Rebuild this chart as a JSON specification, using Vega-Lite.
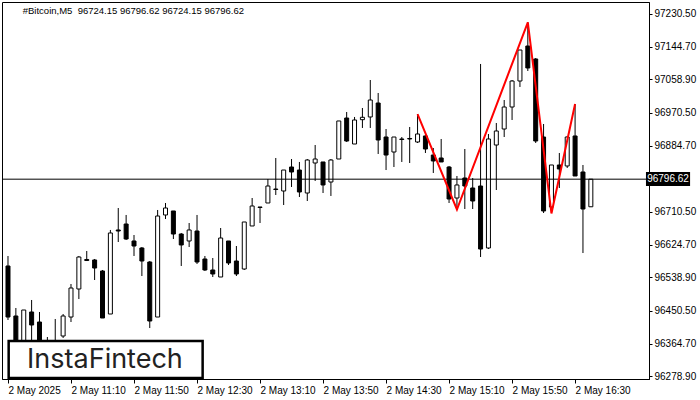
{
  "$schema": "https://vega.github.io/schema/vega-lite/v6.json",
  "width": 647,
  "height": 377,
  "autosize": {"type": "none"},
  "padding": {"left": 2, "top": 2, "right": 51, "bottom": 21},
  "background": "white",
  "config": {
    "view": {"stroke": "black", "strokeWidth": 1},
    "font": "Liberation Sans",
    "axis": {"grid": false, "labelColor": "black", "tickColor": "black", "domainColor": "black", "labelFont": "Liberation Sans", "labelFontSize": 10, "labelOverlap": false, "labelFlush": false}
  },
  "datasets": {
    "candles": [
      {"t": "2025-05-02T10:30:00", "o": 96568.6, "h": 96594.9, "l": 96426.8, "c": 96434.6},
      {"t": "2025-05-02T10:35:00", "o": 96437.3, "h": 96458.3, "l": 96334.8, "c": 96348.0},
      {"t": "2025-05-02T10:40:00", "o": 96348.0, "h": 96453.0, "l": 96334.8, "c": 96453.0},
      {"t": "2025-05-02T10:45:00", "o": 96447.8, "h": 96479.3, "l": 96361.1, "c": 96413.6},
      {"t": "2025-05-02T10:50:00", "o": 96421.5, "h": 96447.8, "l": 96327.0, "c": 96348.0},
      {"t": "2025-05-02T10:55:00", "o": 96366.4, "h": 96382.1, "l": 96321.7, "c": 96342.7},
      {"t": "2025-05-02T11:00:00", "o": 96334.8, "h": 96429.4, "l": 96327.0, "c": 96366.4},
      {"t": "2025-05-02T11:05:00", "o": 96384.7, "h": 96442.5, "l": 96379.5, "c": 96437.3},
      {"t": "2025-05-02T11:10:00", "o": 96434.6, "h": 96521.3, "l": 96421.5, "c": 96510.8},
      {"t": "2025-05-02T11:15:00", "o": 96508.2, "h": 96594.9, "l": 96481.9, "c": 96592.2},
      {"t": "2025-05-02T11:20:00", "o": 96585.7, "h": 96608.0, "l": 96581.7, "c": 96583.0},
      {"t": "2025-05-02T11:25:00", "o": 96584.4, "h": 96587.0, "l": 96531.8, "c": 96563.3},
      {"t": "2025-05-02T11:30:00", "o": 96555.5, "h": 96558.1, "l": 96432.0, "c": 96432.0},
      {"t": "2025-05-02T11:35:00", "o": 96442.5, "h": 96663.2, "l": 96442.5, "c": 96655.3},
      {"t": "2025-05-02T11:40:00", "o": 96663.2, "h": 96720.9, "l": 96631.6, "c": 96660.5},
      {"t": "2025-05-02T11:45:00", "o": 96678.9, "h": 96702.6, "l": 96636.9, "c": 96639.5},
      {"t": "2025-05-02T11:50:00", "o": 96634.3, "h": 96650.0, "l": 96594.9, "c": 96621.1},
      {"t": "2025-05-02T11:55:00", "o": 96615.9, "h": 96618.5, "l": 96542.3, "c": 96581.7},
      {"t": "2025-05-02T12:00:00", "o": 96579.1, "h": 96581.7, "l": 96405.7, "c": 96424.1},
      {"t": "2025-05-02T12:05:00", "o": 96434.6, "h": 96715.7, "l": 96434.6, "c": 96699.9},
      {"t": "2025-05-02T12:10:00", "o": 96702.6, "h": 96734.1, "l": 96692.0, "c": 96720.9},
      {"t": "2025-05-02T12:15:00", "o": 96713.1, "h": 96713.1, "l": 96639.5, "c": 96652.6},
      {"t": "2025-05-02T12:20:00", "o": 96652.6, "h": 96655.3, "l": 96568.6, "c": 96623.8},
      {"t": "2025-05-02T12:25:00", "o": 96634.3, "h": 96681.5, "l": 96618.5, "c": 96663.2},
      {"t": "2025-05-02T12:30:00", "o": 96660.5, "h": 96702.6, "l": 96573.9, "c": 96579.1},
      {"t": "2025-05-02T12:35:00", "o": 96587.0, "h": 96594.9, "l": 96555.5, "c": 96558.1},
      {"t": "2025-05-02T12:40:00", "o": 96558.1, "h": 96589.6, "l": 96539.7, "c": 96547.6},
      {"t": "2025-05-02T12:45:00", "o": 96539.7, "h": 96668.4, "l": 96539.7, "c": 96642.1},
      {"t": "2025-05-02T12:50:00", "o": 96634.3, "h": 96634.3, "l": 96571.2, "c": 96576.5},
      {"t": "2025-05-02T12:55:00", "o": 96581.7, "h": 96621.1, "l": 96542.3, "c": 96547.6},
      {"t": "2025-05-02T13:00:00", "o": 96560.7, "h": 96684.2, "l": 96558.1, "c": 96684.2},
      {"t": "2025-05-02T13:05:00", "o": 96673.7, "h": 96747.2, "l": 96673.7, "c": 96726.2},
      {"t": "2025-05-02T13:10:00", "o": 96723.6, "h": 96723.6, "l": 96681.5, "c": 96722.3},
      {"t": "2025-05-02T13:15:00", "o": 96734.1, "h": 96797.1, "l": 96734.1, "c": 96778.7},
      {"t": "2025-05-02T13:20:00", "o": 96770.8, "h": 96852.3, "l": 96755.1, "c": 96769.5},
      {"t": "2025-05-02T13:25:00", "o": 96765.6, "h": 96820.7, "l": 96728.8, "c": 96820.7},
      {"t": "2025-05-02T13:30:00", "o": 96828.6, "h": 96849.6, "l": 96776.1, "c": 96815.5},
      {"t": "2025-05-02T13:35:00", "o": 96820.7, "h": 96841.8, "l": 96749.8, "c": 96763.0},
      {"t": "2025-05-02T13:40:00", "o": 96760.3, "h": 96849.6, "l": 96739.3, "c": 96847.0},
      {"t": "2025-05-02T13:45:00", "o": 96839.1, "h": 96886.4, "l": 96791.9, "c": 96849.6},
      {"t": "2025-05-02T13:50:00", "o": 96841.8, "h": 96841.8, "l": 96760.3, "c": 96781.4},
      {"t": "2025-05-02T13:55:00", "o": 96789.2, "h": 96849.6, "l": 96752.5, "c": 96847.0},
      {"t": "2025-05-02T14:00:00", "o": 96849.6, "h": 96949.5, "l": 96849.6, "c": 96949.5},
      {"t": "2025-05-02T14:05:00", "o": 96957.3, "h": 96973.1, "l": 96894.3, "c": 96896.9},
      {"t": "2025-05-02T14:10:00", "o": 96889.0, "h": 96960.0, "l": 96889.0, "c": 96952.1},
      {"t": "2025-05-02T14:15:00", "o": 96952.9, "h": 96983.6, "l": 96931.1, "c": 96959.2},
      {"t": "2025-05-02T14:20:00", "o": 96960.0, "h": 97057.1, "l": 96931.1, "c": 97004.6},
      {"t": "2025-05-02T14:25:00", "o": 96996.7, "h": 97023.0, "l": 96862.8, "c": 96899.5},
      {"t": "2025-05-02T14:30:00", "o": 96907.4, "h": 96928.4, "l": 96820.7, "c": 96860.1},
      {"t": "2025-05-02T14:35:00", "o": 96868.0, "h": 96907.4, "l": 96828.6, "c": 96907.4},
      {"t": "2025-05-02T14:40:00", "o": 96902.2, "h": 96907.4, "l": 96841.8, "c": 96900.9},
      {"t": "2025-05-02T14:45:00", "o": 96903.5, "h": 96933.7, "l": 96839.1, "c": 96902.2},
      {"t": "2025-05-02T14:50:00", "o": 96894.3, "h": 96967.8, "l": 96891.7, "c": 96915.3},
      {"t": "2025-05-02T14:55:00", "o": 96910.1, "h": 96912.7, "l": 96865.4, "c": 96875.9},
      {"t": "2025-05-02T15:00:00", "o": 96860.1, "h": 96878.5, "l": 96812.9, "c": 96844.4},
      {"t": "2025-05-02T15:05:00", "o": 96852.3, "h": 96902.2, "l": 96841.8, "c": 96841.8},
      {"t": "2025-05-02T15:10:00", "o": 96828.6, "h": 96831.3, "l": 96734.1, "c": 96744.6},
      {"t": "2025-05-02T15:15:00", "o": 96747.2, "h": 96805.0, "l": 96718.3, "c": 96781.4},
      {"t": "2025-05-02T15:20:00", "o": 96799.7, "h": 96875.9, "l": 96718.3, "c": 96778.7},
      {"t": "2025-05-02T15:25:00", "o": 96773.5, "h": 96799.7, "l": 96718.3, "c": 96739.3},
      {"t": "2025-05-02T15:30:00", "o": 96778.7, "h": 97099.2, "l": 96592.2, "c": 96613.2},
      {"t": "2025-05-02T15:35:00", "o": 96615.9, "h": 96915.3, "l": 96613.2, "c": 96902.2},
      {"t": "2025-05-02T15:40:00", "o": 96886.4, "h": 96944.2, "l": 96768.2, "c": 96923.2},
      {"t": "2025-05-02T15:45:00", "o": 96928.4, "h": 97004.6, "l": 96907.4, "c": 96986.2},
      {"t": "2025-05-02T15:50:00", "o": 96986.2, "h": 97057.1, "l": 96952.1, "c": 97054.5},
      {"t": "2025-05-02T15:55:00", "o": 97054.5, "h": 97135.9, "l": 97038.8, "c": 97135.9},
      {"t": "2025-05-02T16:00:00", "o": 97146.4, "h": 97209.5, "l": 97080.8, "c": 97088.7},
      {"t": "2025-05-02T16:05:00", "o": 97112.3, "h": 97114.9, "l": 96891.7, "c": 96896.9},
      {"t": "2025-05-02T16:10:00", "o": 96907.4, "h": 96941.6, "l": 96707.8, "c": 96713.1},
      {"t": "2025-05-02T16:15:00", "o": 96723.6, "h": 96833.9, "l": 96707.8, "c": 96833.9},
      {"t": "2025-05-02T16:20:00", "o": 96833.9, "h": 96865.4, "l": 96773.5, "c": 96823.4},
      {"t": "2025-05-02T16:25:00", "o": 96831.3, "h": 96910.1, "l": 96826.0, "c": 96907.4},
      {"t": "2025-05-02T16:30:00", "o": 96910.1, "h": 96994.1, "l": 96805.0, "c": 96805.0},
      {"t": "2025-05-02T16:35:00", "o": 96815.5, "h": 96833.9, "l": 96602.7, "c": 96718.3},
      {"t": "2025-05-02T16:40:00", "o": 96724.15, "h": 96796.62, "l": 96724.15, "c": 96796.62}
    ],
    "pattern": [
      {"t": "2025-05-02T14:50:00", "p": 96967.8},
      {"t": "2025-05-02T15:15:00", "p": 96717.0},
      {"t": "2025-05-02T16:00:00", "p": 97208.7},
      {"t": "2025-05-02T16:15:00", "p": 96706.5},
      {"t": "2025-05-02T16:30:00", "p": 96994.1}
    ]
  },
  "layer": [
    {
      "data": {"name": "candles"},
      "mark": {"type": "rule", "color": "black", "strokeWidth": 1},
      "encoding": {
        "x": {
          "field": "t", "type": "temporal", "title": null,
          "scale": {"domain": [
            {"year": 2025, "month": 5, "date": 2, "hours": 10, "minutes": 29, "seconds": 22, "milliseconds": 500},
            {"year": 2025, "month": 5, "date": 2, "hours": 17, "minutes": 13, "seconds": 45}
          ], "nice": false},
          "axis": {
            "values": [
              {"year": 2025, "month": 5, "date": 2, "hours": 10, "minutes": 30},
              {"year": 2025, "month": 5, "date": 2, "hours": 11, "minutes": 10},
              {"year": 2025, "month": 5, "date": 2, "hours": 11, "minutes": 50},
              {"year": 2025, "month": 5, "date": 2, "hours": 12, "minutes": 30},
              {"year": 2025, "month": 5, "date": 2, "hours": 13, "minutes": 10},
              {"year": 2025, "month": 5, "date": 2, "hours": 13, "minutes": 50},
              {"year": 2025, "month": 5, "date": 2, "hours": 14, "minutes": 30},
              {"year": 2025, "month": 5, "date": 2, "hours": 15, "minutes": 10},
              {"year": 2025, "month": 5, "date": 2, "hours": 15, "minutes": 50},
              {"year": 2025, "month": 5, "date": 2, "hours": 16, "minutes": 30}
            ],
            "tickCount": 30,
            "labelExpr": "(hours(datum.value) == 10 && minutes(datum.value) == 30) ? '2 May 2025' : '2 May ' + timeFormat(datum.value, '%H:%M')",
            "labelAlign": "left", "labelPadding": 2, "tickSize": 4, "labelFlush": false, "labelOverlap": false, "title": null
          }
        },
        "y": {
          "field": "l", "type": "quantitative", "title": null,
          "scale": {"domain": [96271.8, 97262.0], "nice": false, "zero": false},
          "axis": {
            "orient": "right",
            "values": [96278.9, 96364.7, 96450.5, 96538.9, 96624.7, 96710.5, 96884.7, 96970.5, 97058.9, 97144.7, 97230.5],
            "tickCount": 30,
            "format": ".2f", "tickSize": 3, "labelPadding": 2, "labelBaseline": "middle", "labelOverlap": false, "labelFlush": false, "labelBound": false, "title": null
          }
        },
        "y2": {"field": "h"}
      }
    },
    {
      "data": {"name": "candles"},
      "mark": {"type": "bar", "width": 4, "stroke": "black", "strokeWidth": 1, "orient": "vertical"},
      "encoding": {
        "x": {"field": "t", "type": "temporal"},
        "y": {"field": "o", "type": "quantitative"},
        "y2": {"field": "c"},
        "fill": {"condition": {"test": "datum.c > datum.o", "value": "white"}, "value": "black"}
      }
    },
    {
      "data": {"values": [{"p": 96796.62}]},
      "mark": {"type": "rule", "color": "black", "strokeWidth": 1},
      "encoding": {"y": {"field": "p", "type": "quantitative"}}
    },
    {
      "data": {"name": "pattern"},
      "mark": {"type": "line", "color": "#ff0000", "strokeWidth": 2},
      "encoding": {
        "x": {"field": "t", "type": "temporal"},
        "y": {"field": "p", "type": "quantitative"}
      }
    },
    {
      "data": {"values": [{"label": "#Bitcoin,M5\u00a0 96724.15 96796.62 96724.15 96796.62"}]},
      "mark": {"type": "text", "align": "left", "baseline": "middle", "font": "Liberation Sans", "fontSize": 9.5, "color": "black"},
      "encoding": {
        "x": {"datum": {"year": 2025, "month": 5, "date": 2, "hours": 10, "minutes": 39, "seconds": 22}, "type": "temporal"},
        "y": {"datum": 97238.4, "type": "quantitative"},
        "text": {"field": "label"}
      }
    },
    {
      "data": {"values": [{"a": 1}]},
      "mark": {"type": "rect", "fill": "white", "stroke": "black", "strokeWidth": 2.5},
      "encoding": {
        "x": {"datum": {"year": 2025, "month": 5, "date": 2, "hours": 10, "minutes": 30, "seconds": 26}, "type": "temporal"},
        "x2": {"datum": {"year": 2025, "month": 5, "date": 2, "hours": 12, "minutes": 33, "seconds": 34}},
        "y": {"datum": 96371.6, "type": "quantitative"},
        "y2": {"datum": 96274.4}
      }
    },
    {
      "data": {"values": [{"label": "InstaFintech"}]},
      "mark": {"type": "text", "align": "center", "baseline": "alphabetic", "font": "Inter", "fontSize": 27, "fontWeight": 400, "color": "#222222"},
      "encoding": {
        "x": {"datum": {"year": 2025, "month": 5, "date": 2, "hours": 11, "minutes": 31, "seconds": 34}, "type": "temporal"},
        "y": {"datum": 96300.7, "type": "quantitative"},
        "text": {"field": "label"}
      }
    },
    {
      "data": {"values": [{"a": 1}]},
      "mark": {"type": "rect", "fill": "black", "clip": false},
      "encoding": {
        "x": {"datum": {"year": 2025, "month": 5, "date": 2, "hours": 17, "minutes": 15, "seconds": 0}, "type": "temporal"},
        "x2": {"datum": {"year": 2025, "month": 5, "date": 2, "hours": 17, "minutes": 43, "seconds": 0}},
        "y": {"datum": 96815.5, "type": "quantitative"},
        "y2": {"datum": 96778.7}
      }
    },
    {
      "data": {"values": [{"label": "96796.62"}]},
      "mark": {"type": "text", "align": "center", "baseline": "middle", "font": "Liberation Sans", "fontSize": 10, "color": "white", "clip": false},
      "encoding": {
        "x": {"datum": {"year": 2025, "month": 5, "date": 2, "hours": 17, "minutes": 29, "seconds": 0}, "type": "temporal"},
        "y": {"datum": 96796.62, "type": "quantitative"},
        "text": {"field": "label"}
      }
    }
  ]
}
